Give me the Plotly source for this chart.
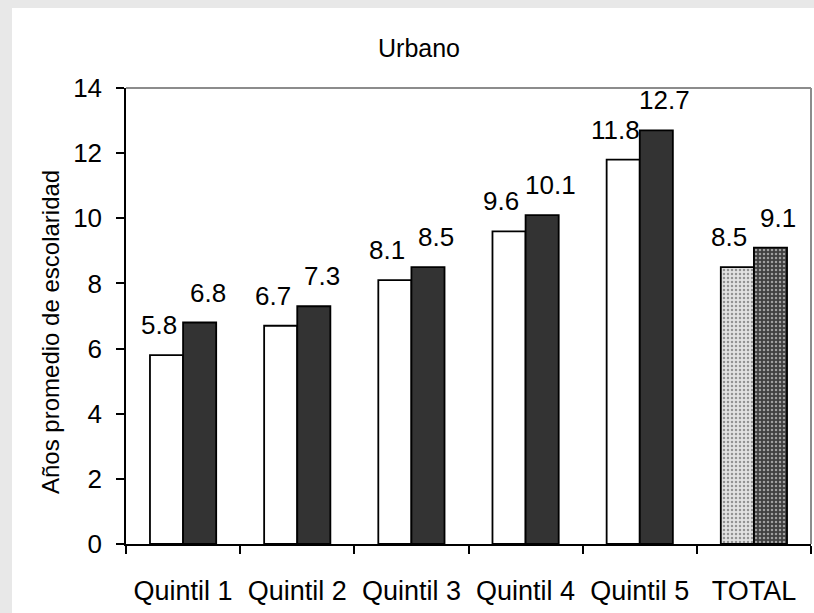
import plotly.graph_objects as go

categories = ["Quintil 1", "Quintil 2", "Quintil 3", "Quintil 4", "Quintil 5", "TOTAL"]
serie_a = [5.8, 6.7, 8.1, 9.6, 11.8, 8.5]
serie_b = [6.8, 7.3, 8.5, 10.1, 12.7, 9.1]
y_ticks = [0, 2, 4, 6, 8, 10, 12, 14]
title_text = "Urbano"
y_title = "Años promedio de escolaridad"

FONT = "Liberation Sans"
BG = "#e8e8e8"

# plot-area geometry (pixels)
W, H = 814, 613
L, R, T, B = 126, 811, 88, 544
ml, mr, mt, mb = L, W - R, T, H - B
pw, ph = R - L, B - T

is_total = [c == "TOTAL" for c in categories]
color_a = ["#e2e2e2" if t else "white" for t in is_total]
color_b = ["#404040" if t else "#333333" for t in is_total]
shape_pat = ["." if t else "" for t in is_total]
fg_a = ["#b4b4b4" if t else "white" for t in is_total]
fg_b = ["#6a6a6a" if t else "#333333" for t in is_total]

fig = go.Figure()
fig.add_trace(go.Bar(
    x=categories, y=serie_a, name="A",
    marker=dict(color=color_a, line=dict(color="black", width=1.8),
                pattern=dict(shape=shape_pat, fgcolor=fg_a, size=4,
                             solidity=0.3, fillmode="overlay")),
))
fig.add_trace(go.Bar(
    x=categories, y=serie_b, name="B",
    marker=dict(color=color_b, line=dict(color="black", width=1.8),
                pattern=dict(shape=shape_pat, fgcolor=fg_b, size=4,
                             solidity=0.3, fillmode="overlay")),
))

annotations = []
bar_off = 0.58 / 4  # centre of each bar within its group (bargap 0.42)
for i, (a, b) in enumerate(zip(serie_a, serie_b)):
    for val, off, xs in ((a, -bar_off, -8), (b, bar_off, 8)):
        annotations.append(dict(
            x=i + off, y=val, xref="x", yref="y", text=f"{val:.1f}",
            showarrow=False, yanchor="bottom", xanchor="center",
            xshift=xs, yshift=13,
            font=dict(family=FONT, size=26, color="black"),
        ))

annotations.append(dict(
    x=(50 - L) / pw, y=(B - 332) / ph, xref="paper", yref="paper", text=y_title,
    textangle=-90, showarrow=False, xanchor="center", yanchor="middle",
    font=dict(family=FONT, size=24, color="black"),
))

shapes = [
    # white panel
    dict(type="rect", xref="paper", yref="paper",
         x0=(12 - L) / pw, x1=1.1, y0=-0.3, y1=1 + (T - 8) / ph,
         fillcolor="white", line=dict(width=0), layer="below"),
    # gray top and right border of plot area
    dict(type="line", xref="paper", yref="paper", x0=0, x1=1, y0=1, y1=1,
         line=dict(color="#8c8c8c", width=2)),
    dict(type="line", xref="paper", yref="paper", x0=1, x1=1, y0=0, y1=1,
         line=dict(color="#8c8c8c", width=2)),
]

fig.update_layout(
    width=W, height=H,
    margin=dict(l=ml, r=mr, t=mt, b=mb, autoexpand=False),
    paper_bgcolor=BG, plot_bgcolor="white",
    barmode="group", bargap=0.42, bargroupgap=0,
    showlegend=False,
    title=dict(text=title_text, x=419 / W, xref="container",
               xanchor="center", y=1 - 48 / H, yanchor="middle",
               font=dict(family=FONT, size=25, color="black")),
    font=dict(family=FONT, color="black"),
    annotations=annotations, shapes=shapes,
)
fig.update_xaxes(
    type="category", showline=True, linecolor="black", linewidth=1.5,
    ticks="outside", tickson="boundaries", ticklen=8, tickcolor="black", tickwidth=1.5,
    tickfont=dict(family=FONT, size=27, color="black"), ticklabelstandoff=22,
    showgrid=False, zeroline=False, fixedrange=True,
)
fig.update_yaxes(
    range=[0, 14], tickvals=y_ticks, showline=True, linecolor="black", linewidth=1.5,
    ticks="outside", ticklen=8, tickcolor="black", tickwidth=1.5,
    tickfont=dict(family=FONT, size=26, color="black"), ticklabelstandoff=9,
    showgrid=False, zeroline=False, fixedrange=True,
)

fig.write_html(
    "out.html",
    config={"displayModeBar": False},
    post_script="document.body.style.margin='0';document.body.style.background='%s';" % BG,
)
